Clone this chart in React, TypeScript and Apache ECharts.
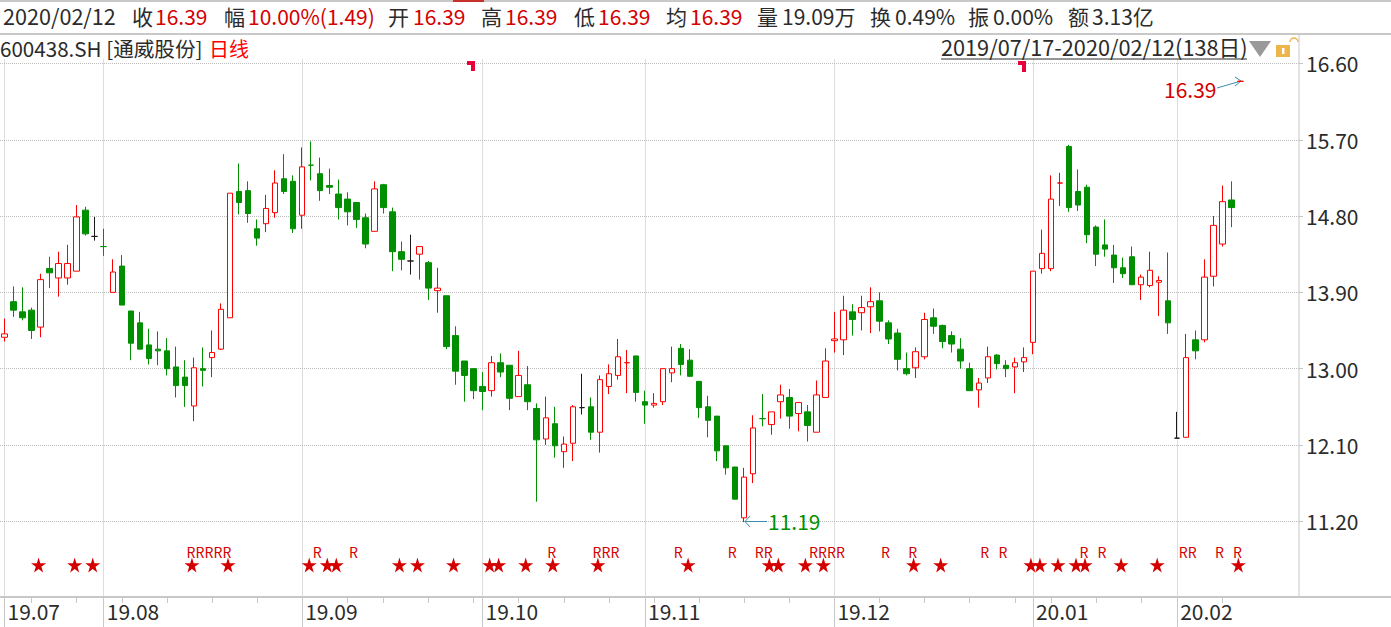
import React, { useEffect, useRef } from "react";
import * as echarts from "echarts";

const opens = [13.37,13.79,13.67,13.69,13.49,14.18,14.07,14.07,14.15,14.87,14.56,14.44,13.90,14.21,13.68,13.54,13.28,13.23,13.21,13.02,12.90,12.56,13.00,13.13,13.23,13.60,15.09,15.10,14.65,14.71,14.84,15.24,15.21,14.81,15.40,15.30,15.16,15.06,15.00,14.96,14.78,14.62,15.17,14.85,14.38,14.27,14.35,14.25,13.92,13.86,13.39,13.09,13.00,12.79,12.74,13.07,13.04,12.67,12.81,12.53,12.17,12.35,12.02,12.12,12.54,12.55,12.25,12.79,12.92,13.07,13.15,12.61,12.57,12.61,12.95,13.24,13.10,12.85,12.55,12.44,12.09,11.84,11.24,11.76,12.41,12.34,12.61,12.66,12.47,12.49,12.25,12.66,13.33,13.34,13.67,13.66,13.73,13.80,13.54,13.42,13.00,13.01,13.14,13.60,13.51,13.39,13.23,13.00,12.75,12.89,13.16,13.04,13.02,13.08,13.31,14.18,14.18,15.19,15.62,15.09,15.14,14.67,14.46,14.34,14.19,14.32,13.99,13.98,14.02,13.80,12.18,12.19,13.34,13.34,14.09,14.47,14.99,16.39];
const closes = [13.41,13.69,13.60,13.45,14.05,14.13,14.24,14.24,14.79,14.59,14.56,14.44,14.14,13.75,13.30,13.23,13.12,13.21,13.00,12.80,12.80,13.01,12.98,13.19,13.70,15.07,14.96,14.83,14.54,14.89,15.19,15.09,14.65,15.38,15.40,15.10,15.14,14.90,14.85,14.76,14.47,15.12,14.90,14.38,14.29,14.27,14.44,13.95,13.95,13.26,12.97,12.92,12.74,12.73,13.07,12.96,12.65,12.92,12.61,12.16,12.42,12.09,12.11,12.55,12.54,12.25,12.87,12.94,13.14,13.07,12.72,12.57,12.59,13.00,13.00,13.05,12.91,12.54,12.39,12.03,11.83,11.46,11.72,12.30,12.41,12.49,12.69,12.44,12.60,12.33,12.69,13.09,13.35,13.69,13.58,13.72,13.79,13.56,13.35,13.11,12.94,13.20,13.58,13.50,13.32,13.29,13.09,12.74,12.83,13.14,13.06,13.00,13.07,13.13,14.15,14.36,15.00,15.19,14.90,14.93,14.58,14.35,14.41,14.19,14.12,13.99,14.08,14.16,14.04,13.54,12.18,13.13,13.21,14.08,14.69,14.97,14.90,16.39];
const lows = [13.32,13.61,13.57,13.35,13.37,13.95,13.85,13.99,14.15,14.57,14.51,14.33,13.90,13.75,13.10,13.23,13.05,13.04,12.92,12.66,12.55,12.38,12.79,12.90,13.22,13.60,14.82,14.72,14.45,14.61,14.78,15.06,14.60,14.65,15.22,14.98,15.06,14.76,14.69,14.66,14.42,14.62,14.83,14.15,14.16,14.11,14.05,13.81,13.66,13.23,12.81,12.61,12.64,12.51,12.67,12.90,12.51,12.67,12.51,11.43,12.10,11.95,11.83,11.91,12.46,12.16,12.01,12.70,12.87,12.71,12.61,12.35,12.54,12.57,12.84,12.92,12.90,12.42,12.19,11.91,11.75,11.46,11.19,11.65,12.32,12.22,12.41,12.29,12.26,12.14,12.25,12.66,13.19,13.16,13.39,13.45,13.42,13.44,13.29,12.98,12.92,12.89,13.11,13.41,13.24,13.19,13.00,12.74,12.54,12.83,12.99,12.90,12.71,12.96,13.17,14.12,14.15,14.92,14.85,14.86,14.48,14.21,14.32,14.01,14.07,13.99,13.81,13.96,13.62,13.41,12.18,12.19,13.11,13.31,13.97,14.44,14.67,16.39];
const highs = [13.59,13.97,13.96,13.72,14.12,14.32,14.38,14.46,14.93,14.91,14.79,14.65,14.29,14.34,13.68,13.67,13.47,13.44,13.36,13.26,13.10,13.13,13.25,13.45,13.77,15.07,15.42,15.21,14.76,15.05,15.34,15.53,15.28,15.61,15.68,15.49,15.36,15.23,15.08,14.96,14.83,15.21,15.18,14.90,14.50,14.58,14.44,14.27,14.19,13.86,13.50,13.09,13.00,12.96,13.15,13.18,13.04,13.21,13.03,12.59,12.67,12.55,12.20,12.57,12.94,12.66,12.92,13.05,13.35,13.22,13.15,12.74,12.71,13.00,13.26,13.29,13.23,12.85,12.68,12.44,12.09,11.84,11.83,12.45,12.70,12.49,12.81,12.76,12.60,12.57,12.86,13.24,13.67,13.86,13.76,13.86,13.96,13.90,13.57,13.47,13.19,13.25,13.66,13.71,13.52,13.44,13.36,13.07,12.89,13.26,13.17,13.10,13.13,13.25,14.15,14.64,15.28,15.31,15.64,15.35,15.17,14.69,14.76,14.46,14.31,14.44,14.11,14.38,14.09,14.37,12.49,13.41,13.45,14.29,14.80,15.16,15.21,16.39];
const flatDayTones: Record<number, string> = { 10: "black", 11: "green", 34: "green", 45: "black", 64: "black", 69: "red", 84: "green", 117: "red", 130: "black", 137: "red" };

const monthLabels = ["19.07", "19.08", "19.09", "19.10", "19.11", "19.12", "20.01", "20.02"];
const monthStarts = [0, 11, 33, 53, 71, 92, 114, 130];
const weekTicks = [3, 8, 13, 18, 23, 28, 38, 42, 47, 52, 57, 62, 67, 72, 77, 82, 87, 97, 102, 107, 112, 116, 121, 126, 135];
const priceTicks = [11.2, 12.1, 13.0, 13.9, 14.8, 15.7, 16.6];
const starDays = [4, 8, 10, 21, 25, 34, 36, 37, 44, 46, 50, 54, 55, 58, 61, 66, 76, 85, 86, 89, 91, 101, 104, 114, 115, 117, 119, 120, 124, 128, 137];
const rDays = [21, 22, 23, 24, 25, 35, 39, 61, 66, 67, 68, 75, 81, 84, 85, 90, 91, 92, 93, 98, 101, 109, 111, 120, 122, 131, 132, 135, 137];
const STAR_ROW = 10.684;
const R_ROW = 10.837;
const BLANK_SLOTS = 6;

const headerTexts = ["2020/02/12", "收", "16.39", "幅", "10.00%(1.49)", "开", "16.39", "高", "16.39", "低", "16.39", "均", "16.39", "量", "19.09万", "换", "0.49%", "振", "0.00%", "额", "3.13亿"];
const headerTones = ["d", "d", "r", "d", "r", "d", "r", "d", "r", "d", "r", "d", "r", "d", "d", "d", "d", "d", "d", "d", "d"];
const headerLefts = [3, 132, 155, 224, 248, 388, 413, 481, 505, 574, 598, 666, 690, 757, 782, 870, 895, 968, 993, 1068, 1092];

const FONT = '"Noto Sans CJK SC", "Noto Sans", sans-serif';
const DARK = "#2b2b2b";
const RED = "#ff0000";
const TEXT_RED = "#d40000";
const GREEN = "#008f00";
const LINE = "#c8c8c8";
const DOT = "#bdbdbd";
const ARROW = "#3a8fb0";

const toneColor: Record<string, string> = { red: RED, green: GREEN, black: "#1a1a1a" };

function candleItem(i: number) {
  const tone = flatDayTones[i] ?? (closes[i] >= opens[i] ? "red" : "green");
  const c = toneColor[tone];
  return {
    value: [opens[i], closes[i], lows[i], highs[i]],
    itemStyle: {
      color: tone === "red" ? "#ffffff" : c,
      color0: tone === "red" ? "#ffffff" : c,
      borderColor: c,
      borderColor0: c,
      borderColorDoji: c,
      borderWidth: 1,
    },
  };
}

function txt(text: string, x: number, y: number, fill: string, size = 21, align = "left") {
  return {
    type: "text",
    x,
    y,
    z: 20,
    silent: true,
    style: { text, fill, font: `${size}px ${FONT}`, textAlign: align, textVerticalAlign: "middle" },
  };
}
function seg(x1: number, y1: number, x2: number, y2: number, stroke: string, lineWidth = 1) {
  return { type: "line", z: 20, silent: true, shape: { x1, y1, x2, y2 }, style: { stroke, lineWidth } };
}

export default function App() {
  const ref = useRef<HTMLDivElement>(null);

  useEffect(() => {
    if (!ref.current) return;
    const chart = echarts.init(ref.current, null, { renderer: "svg" });
    const total = opens.length + BLANK_SLOTS;
    const cats = Array.from({ length: total }, (_, i) => String(i));
    const majorSet = new Set(monthStarts);
    const minorSet = new Set(weekTicks);

    const graphics: any[] = [
      seg(0, 1, 1391, 1, LINE, 2),
      { type: "rect", z: 21, silent: true, shape: { x: 453, y: 0, width: 31, height: 2 }, style: { fill: "#c8302c" } },
      seg(0, 34, 1391, 34, LINE, 2),
      seg(1299, 34, 1299, 597, LINE, 1),
      seg(1299, 597, 1391, 597, LINE, 2),
      ...headerTexts.map((t, i) => txt(t, headerLefts[i], 15.5, headerTones[i] === "r" ? TEXT_RED : DARK, i === 0 ? 21.6 : 21)),
      txt("600438.SH [通威股份]", 0, 48, DARK, 20.6),
      txt("日线", 209, 48, "#ff0000", 20),
      txt("2019/07/17-2020/02/12(138日)", 941, 46.5, DARK, 21.7),
      seg(941, 59, 1247, 59, DARK, 1),
      { type: "polygon", z: 20, silent: true, shape: { points: [[1249, 41], [1271, 41], [1260, 57]] }, style: { fill: "#999999" } },
      { type: "rect", z: 20, silent: true, shape: { x: 1276, y: 45, width: 14, height: 12 }, style: { fill: "#edb64b" } },
      { type: "rect", z: 21, silent: true, shape: { x: 1282, y: 48, width: 2.5, height: 6 }, style: { fill: "#ffffff" } },
      { type: "arc", z: 20, silent: true, shape: { cx: 1294, cy: 42, r: 4, startAngle: Math.PI, endAngle: 0, clockwise: true }, style: { stroke: "#edb64b", lineWidth: 1.5, fill: "none" } },
      { type: "polygon", z: 21, silent: true, shape: { points: [[467, 61], [475, 61], [475, 71], [471, 71], [471, 65], [467, 65]] }, style: { fill: "#e8003c" } },
      { type: "polygon", z: 21, silent: true, shape: { points: [[1018, 61], [1026, 61], [1026, 72], [1022, 72], [1022, 65], [1018, 65]] }, style: { fill: "#e8003c" } },
      txt("16.39", 1164, 88.5, TEXT_RED, 21),
      seg(1217, 88, 1241, 81, ARROW),
      seg(1241, 81, 1235, 77, ARROW),
      seg(1241, 81, 1235, 86, ARROW),
      txt("11.19", 768, 520.5, GREEN, 21),
      seg(767, 521.5, 745, 521.5, ARROW),
      seg(745, 521.5, 750, 516, ARROW),
      seg(745, 521.5, 750, 527, ARROW),
    ];

    chart.setOption({
      animation: false,
      backgroundColor: "#ffffff",
      grid: { left: 0, top: 59.5, width: 1299, height: 537.5, containLabel: false },
      xAxis: [
        {
          type: "category",
          data: cats,
          boundaryGap: true,
          position: "bottom",
          axisLine: { show: true, lineStyle: { color: LINE, width: 2 } },
          axisTick: {
            show: true,
            alignWithLabel: true,
            length: 30,
            interval: (i: number) => majorSet.has(i),
            lineStyle: { color: LINE, width: 1 },
          },
          axisLabel: {
            show: true,
            interval: (i: number) => majorSet.has(i),
            formatter: (_: string, i: number) => monthLabels[monthStarts.indexOf(i)] ?? "",
            align: "left",
            padding: [0, 0, 0, 3],
            margin: 3,
            color: DARK,
            fontFamily: FONT,
            fontSize: 21,
            hideOverlap: false,
          },
          splitLine: {
            show: true,
            alignWithLabel: true,
            interval: (i: number) => majorSet.has(i),
            lineStyle: { color: DOT, type: "dotted", width: 1 },
          },
        },
        {
          type: "category",
          data: cats,
          boundaryGap: true,
          position: "bottom",
          axisLine: { show: false },
          axisTick: {
            show: true,
            alignWithLabel: true,
            length: 6,
            interval: (i: number) => minorSet.has(i),
            lineStyle: { color: LINE, width: 1 },
          },
          axisLabel: { show: false },
          splitLine: { show: false },
        },
      ],
      yAxis: {
        type: "value",
        position: "right",
        min: 10.306,
        max: 16.647,
        scale: true,
        axisLine: { show: false },
        axisTick: { show: true, length: 4, customValues: priceTicks, lineStyle: { color: LINE } },
        axisLabel: {
          show: true,
          customValues: priceTicks,
          margin: 7,
          padding: [0, 0, 3, 0],
          color: DARK,
          fontFamily: FONT,
          fontSize: 21,
          formatter: (v: number) => v.toFixed(2),
        },
        splitLine: { show: true, lineStyle: { color: DOT, type: "dotted", width: 1 } },
      },
      graphic: graphics,
      series: [
        {
          type: "candlestick",
          name: "日线",
          xAxisIndex: 0,
          barWidth: 6,
          clip: false,
          data: opens.map((_, i) => candleItem(i)),
          z: 25,
        },
        {
          type: "scatter",
          name: "star",
          xAxisIndex: 0,
          symbol: "path://M50 0 L61 35 L98 35 L68 57 L79 91 L50 70 L21 91 L32 57 L2 35 L39 35 Z",
          symbolSize: 15,
          symbolOffset: [-2, 0],
          itemStyle: { color: "#d40000", opacity: 1 },
          data: starDays.map((d) => [d, STAR_ROW]),
          z: 6,
        },
        {
          type: "scatter",
          name: "R",
          xAxisIndex: 0,
          symbol: "circle",
          symbolSize: 1,
          itemStyle: { color: "rgba(0,0,0,0)", opacity: 1 },
          label: {
            show: true,
            position: "inside",
            formatter: "R",
            offset: [-3, 0],
            color: "#d40000",
            fontFamily: FONT,
            fontSize: 14,
          },
          data: rDays.map((d) => [d, R_ROW]),
          z: 6,
        },
      ],
    });

    return () => chart.dispose();
  }, []);

  return (
    <div
      ref={ref}
      style={{ position: "absolute", left: 0, top: 0, width: 1391, height: 627, background: "#fff" }}
    />
  );
}
